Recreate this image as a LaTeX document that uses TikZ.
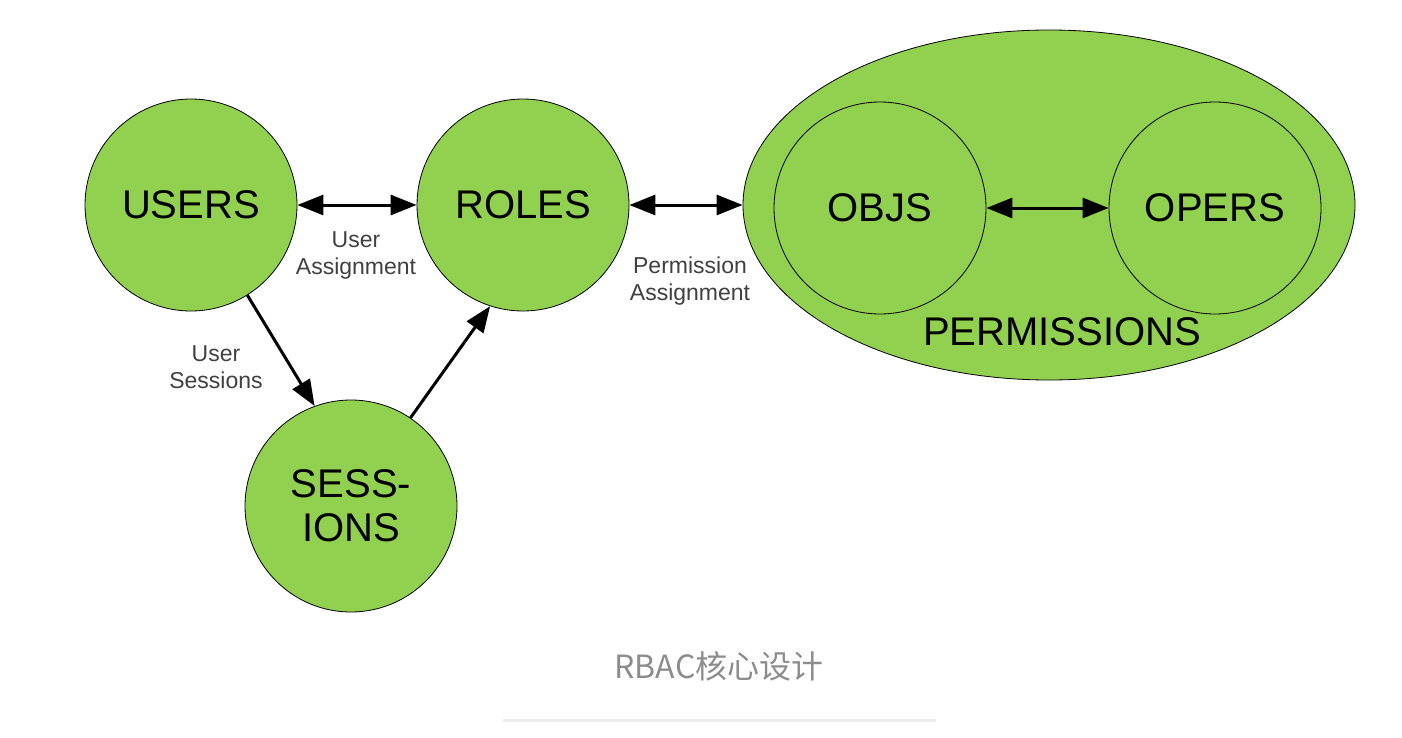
\documentclass[tikz,border=0pt]{standalone}
\usepackage{fontspec}
\setmainfont{Liberation Sans}
\newfontfamily\cjk{Noto Sans CJK SC}
\usetikzlibrary{arrows.meta, positioning, shapes.geometric}
\definecolor{setgreen}{RGB}{146, 208, 80}
\definecolor{captiongray}{RGB}{140, 140, 140}
\definecolor{rulegray}{RGB}{236, 236, 236}

\begin{document}
\begin{tikzpicture}[
        x=0.5pt, y=-0.5pt,
        set/.style={circle, draw, thin, fill=setgreen, minimum size=106pt,
                    inner sep=0pt, align=center, font=\fontsize{20}{22}\selectfont},
        link/.style={{Triangle[length=13pt, width=10pt]}-{Triangle[length=13pt, width=10pt]},
                     line width=1.5pt},
        flow/.style={-{Triangle[length=13pt, width=10pt]}, line width=1.5pt},
        tag/.style={align=center, text=black!75, font=\fontsize{11.5}{13.5}\selectfont},
    ]
        \useasboundingbox (0,0) rectangle (1402,738);

        \node[set] (users) at (191,205) {USERS};
        \node[set] (roles) at (523,205) {ROLES};
        \node[set] (sessions) at (351,506) {SESS-\\IONS};

        \node[ellipse, draw, thin, fill=setgreen, minimum width=306pt,
              minimum height=175pt] (perms) at (1049,205) {};
        \node[set] (objs) at (880,208) {OBJS};
        \node[set] (opers) at (1215,208) {OPERS};
        \node[font=\fontsize{20}{22}\selectfont] (permlabel) at (1062,332) {PERMISSIONS};

        \draw[link] (users) -- (roles);
        \draw[link] (roles.east) -- (perms.west);
        \draw[link] (objs) -- (opers);
        \draw[flow] (users.302) -- (sessions.110);
        \draw[flow] (sessions.56) -- (roles.252);

        \node[tag] (ualabel) at (356,255) {User\\Assignment};
        \node[tag] (palabel) at (690,281) {Permission\\Assignment};
        \node[tag] (uslabel) at (216,367) {User\\Sessions};

        % caption under the figure
        \node[font=\cjk\fontsize{16}{18}\selectfont, text=captiongray] (caption) at (719,666) {RBAC核心设计};
        \draw[rulegray, line width=1.5pt] (503,720) -- (936,720);

    \end{tikzpicture}
\end{document}
